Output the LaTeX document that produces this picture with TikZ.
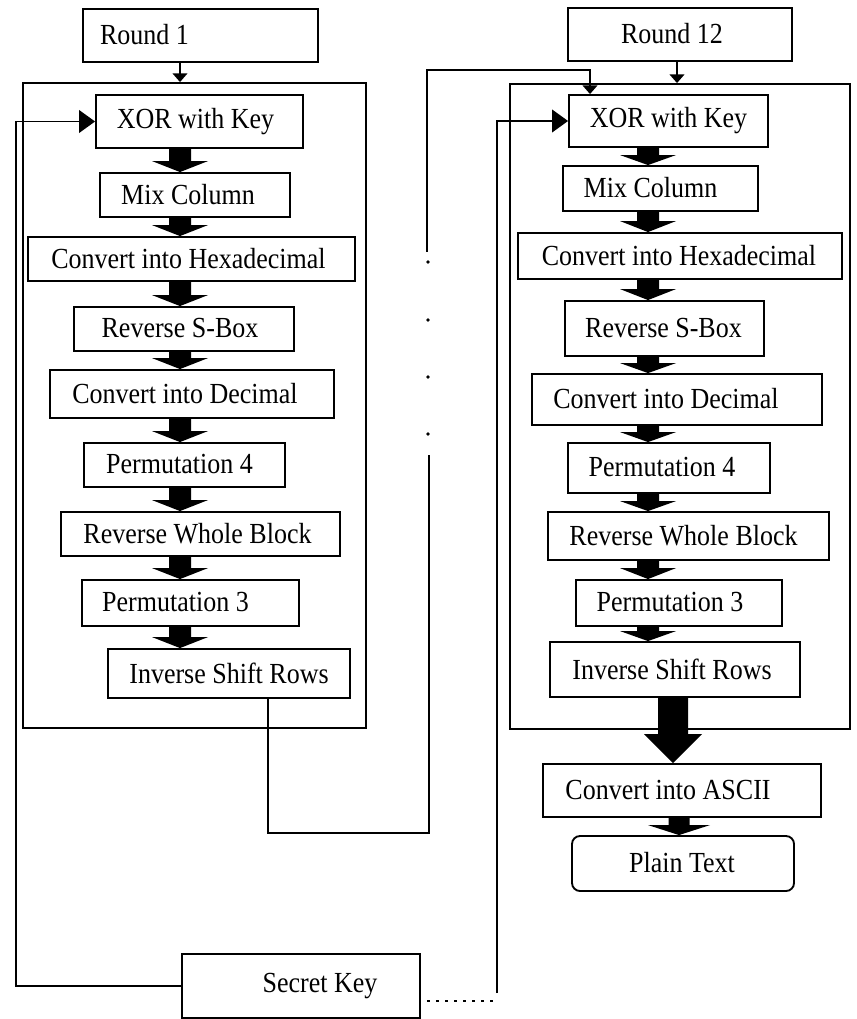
\documentclass[tikz,border=0pt]{standalone}
\usepackage{fontspec}
\usepackage{graphicx}
\setmainfont{Liberation Serif}
\usetikzlibrary{calc,arrows.meta}

% label with a horizontal nudge inside its box (1 unit = 1 drawing unit),
% set slightly taller than the plain face
\newdimen\hp \hp=1.5pt
\newcommand\lab[2]{\hspace*{#1\hp}\raisebox{1pt}{\scalebox{1}[1.12]{#2}}}

% solid block arrow between two boxes: from, to, x, half shaft, half head, head length
\newcommand\fatarr[6]{%
  \fill ($(#3,0 |- #1.south)+(-#4,0)$) -- ($(#3,0 |- #1.south)+(#4,0)$)
     -- ($(#3,0 |- #2.north)+(#4,-#6)$) -- ($(#3,0 |- #2.north)+(#5,-#6)$)
     -- (#3,0 |- #2.north) -- ($(#3,0 |- #2.north)+(-#5,-#6)$)
     -- ($(#3,0 |- #2.north)+(-#4,-#6)$) -- cycle;}

\tikzset{
  box/.style={draw, rectangle, inner sep=0pt, line width=1.4pt,
              font=\fontsize{19.5}{22}\selectfont},
  sz/.style 2 args={minimum width=#1*0.75pt, minimum height=#2*0.75pt},
  wire/.style={line width=1.3pt},
  smallhead/.style={-{Triangle[length=6.5pt,width=11pt]}},
  bighead/.style={-{Triangle[length=12pt,width=17pt]}},
  dotline/.style={line width=2pt, dash pattern=on 2pt off 4.8pt},
}

\begin{document}
\begin{tikzpicture}[x=0.75pt, y=-0.75pt]
\useasboundingbox (0,0) rectangle (856,1019);

% ---------------- round containers ----------------
\node[box, sz={343}{645}] (outL) at (194.5,405.5) {};
\node[box, sz={340}{645}] (outR) at (680,406.5) {};

% ---------------- first round ----------------
\node[box, sz={235}{53}] (r1)   at (200.5,35.5) {\lab{-56}{Round 1}};
\node[box, sz={207}{53}] (xorL) at (199.5,121.5) {\lab{-4}{XOR with Key}};
\node[box, sz={190}{44}] (mixL) at (195,195)   {\lab{-7}{Mix Column}};
\node[box, sz={327}{44}] (hexL) at (191.5,259) {\lab{-3}{Convert into Hexadecimal}};
\node[box, sz={220}{44}] (rsbL) at (184,329)   {\lab{-4}{Reverse S-Box}};
\node[box, sz={284}{48}] (decL) at (192,394)   {\lab{-7}{Convert into Decimal}};
\node[box, sz={201}{44}] (p4L)  at (184.5,465) {\lab{-5}{Permutation 4}};
\node[box, sz={279}{44}] (rwbL) at (200.5,534) {\lab{-3}{Reverse Whole Block}};
\node[box, sz={217}{46}] (p3L)  at (190.5,603) {\lab{-15}{Permutation 3}};
\node[box, sz={242}{49}] (isrL) at (229,673.5) {\lab{0}{Inverse Shift Rows}};

% ---------------- last round ----------------
\node[box, sz={224}{53}] (r12)  at (680,34.5)  {\lab{-8}{Round 12}};
\node[box, sz={199}{52}] (xorR) at (668.5,121) {\lab{0}{XOR with Key}};
\node[box, sz={195}{45}] (mixR) at (660.5,188.5) {\lab{-10}{Mix Column}};
\node[box, sz={324}{46}] (hexR) at (680,256)   {\lab{-1}{Convert into Hexadecimal}};
\node[box, sz={199}{55}] (rsbR) at (664.5,328.5) {\lab{-1}{Reverse S-Box}};
\node[box, sz={290}{51}] (decR) at (677,399.5) {\lab{-11}{Convert into Decimal}};
\node[box, sz={202}{50}] (p4R)  at (669,468)   {\lab{-7}{Permutation 4}};
\node[box, sz={281}{48}] (rwbR) at (688.5,536) {\lab{-5}{Reverse Whole Block}};
\node[box, sz={206}{46}] (p3R)  at (679,603)   {\lab{-9}{Permutation 3}};
\node[box, sz={250}{55}] (isrR) at (675,669.5) {\lab{-3}{Inverse Shift Rows}};

% ---------------- output ----------------
\node[box, sz={278}{53}] (ascii) at (682,790.5) {\lab{-14}{Convert into ASCII}};
\node[box, sz={222}{55}, rounded corners=6pt] (plain) at (683,863.5) {\lab{-1}{Plain Text}};

% ---------------- key ----------------
\node[box, sz={238}{64}] (sk) at (301,986) {\lab{19}{Secret Key}};

% ---------------- block arrows ----------------
\fatarr{xorL}{mixL}{180}{11}{28}{11}
\fatarr{mixL}{hexL}{180}{11}{28}{11}
\fatarr{hexL}{rsbL}{180}{11}{28}{11}
\fatarr{rsbL}{decL}{180}{11}{28}{11}
\fatarr{decL}{p4L}{180}{11}{28}{11}
\fatarr{p4L}{rwbL}{180}{11}{28}{11}
\fatarr{rwbL}{p3L}{180}{11}{28}{11}
\fatarr{p3L}{isrL}{180}{11}{28}{11}

\fatarr{xorR}{mixR}{648}{11}{28}{10}
\fatarr{mixR}{hexR}{648}{11}{28}{11}
\fatarr{hexR}{rsbR}{648}{11}{28}{11}
\fatarr{rsbR}{decR}{648}{11}{28}{10}
\fatarr{decR}{p4R}{648}{11}{28}{10}
\fatarr{p4R}{rwbR}{648}{11}{28}{10}
\fatarr{rwbR}{p3R}{648}{11}{28}{11}
\fatarr{p3R}{isrR}{648}{11}{28}{10}

\fatarr{isrR}{ascii}{673}{15}{29}{29}
\fatarr{ascii}{plain}{679}{10.5}{31}{10}

% ---------------- round inputs ----------------
\draw[wire, smallhead] (180,0 |- r1.south) -- (180,0 |- outL.north);
\draw[wire, smallhead] (677,0 |- r12.south) -- (677,0 |- outR.north);

% ---------------- hand-over between rounds ----------------
\coordinate (hb) at (429,833);
\coordinate (hu) at (429,455);
\coordinate (ht) at (427,252);
\coordinate (hr) at (590,70);
\draw[wire] (268,0 |- isrL.south) |- (hb) -- (hu);
\draw[wire, smallhead] (ht) |- (hr) -- (590,0 |- xorR.north);
\foreach \yy in {262,320,377,434} \fill (428,\yy) circle (1.4pt);

% ---------------- key feeds ----------------
\draw[wire, bighead] (sk.west) -| (16,0 |- xorL.west) -- (xorL.west);
\coordinate (kR) at (497,993);
\draw[wire, bighead] (kR) |- (xorR.west);
\coordinate (kd) at (499,1001);
\draw[dotline] ($(sk.east)+(6,15)$) -- (kd);
\end{tikzpicture}
\end{document}
